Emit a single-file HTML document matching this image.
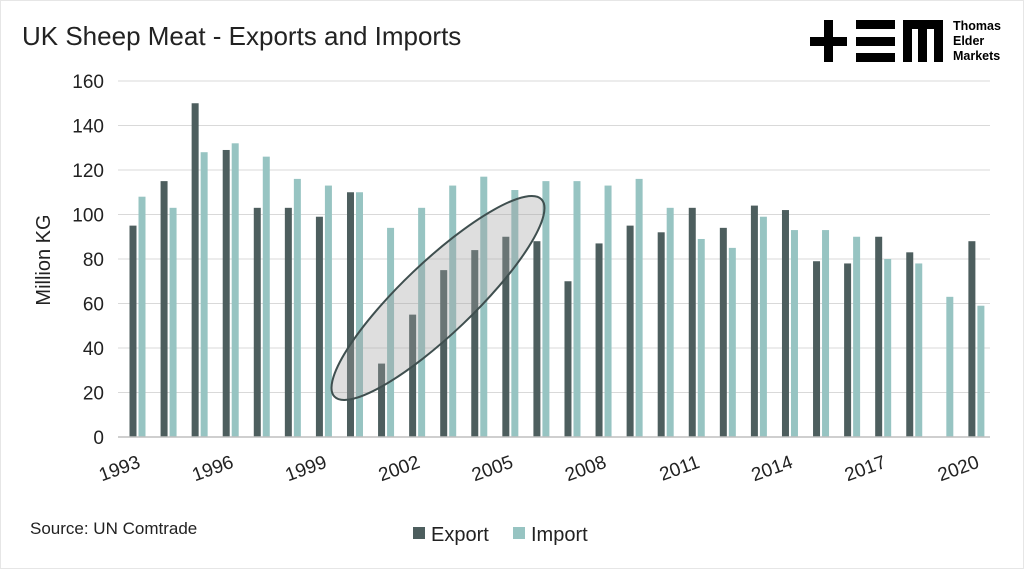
<!DOCTYPE html>
<html><head><meta charset="utf-8"><style>
body{margin:0;background:#fff;}
svg{display:block;font-family:"Liberation Sans",sans-serif;}
</style></head><body>
<svg id="chart" width="1024" height="569" viewBox="0 0 1024 569">
<rect x="0.5" y="0.5" width="1023" height="568" fill="#fff" stroke="#e6e6e6"/>
<text x="22" y="45" font-size="26" fill="#222">UK Sheep Meat - Exports and Imports</text>
<g>
<rect x="810" y="37" width="37" height="9" fill="#000"/>
<rect x="824" y="20" width="9" height="42" fill="#000"/>
<rect x="856" y="20" width="39" height="9" fill="#000"/>
<rect x="856" y="37" width="39" height="9" fill="#000"/>
<rect x="856" y="53" width="39" height="9" fill="#000"/>
<rect x="903" y="20" width="40" height="9" fill="#000"/>
<rect x="903" y="20" width="9" height="42" fill="#000"/>
<rect x="918" y="20" width="9" height="42" fill="#000"/>
<rect x="934" y="20" width="9" height="42" fill="#000"/>
<text x="953" y="30" font-size="12.5" font-weight="bold" fill="#000">Thomas</text>
<text x="953" y="45" font-size="12.5" font-weight="bold" fill="#000">Elder</text>
<text x="953" y="60" font-size="12.5" font-weight="bold" fill="#000">Markets</text>
</g>
<g id="grid"></g>
<g id="bars"></g>
<g id="axes"></g>
<ellipse cx="438" cy="298" rx="143" ry="36" transform="rotate(-43.6 438 298)" fill="rgba(160,160,160,0.35)" stroke="#3f4f4f" stroke-width="2"/>
<text transform="translate(50,260) rotate(-90)" text-anchor="middle" font-size="20" fill="#222">Million KG</text>
<text x="30" y="534" font-size="17" fill="#222">Source: UN Comtrade</text>
<g>
<rect x="413" y="527" width="12" height="12" fill="#4d5e5e"/>
<text x="431" y="541" font-size="20" fill="#222">Export</text>
<rect x="513" y="527" width="12" height="12" fill="#97c4c2"/>
<text x="531" y="541" font-size="20" fill="#222">Import</text>
</g>
</svg>
<script>
const years=[1993,1994,1995,1996,1997,1998,1999,2000,2001,2002,2003,2004,2005,2006,2007,2008,2009,2010,2011,2012,2013,2014,2015,2016,2017,2018,2019,2020];
const exportVals=[95,115,150,129,103,103,99,110,33,55,75,84,90,88,70,87,95,92,103,94,104,102,79,78,90,83,0,88];
const importVals=[108,103,128,132,126,116,113,110,94,103,113,117,111,115,115,113,116,103,89,85,99,93,93,90,80,78,63,59];
const yTicks=[0,20,40,60,80,100,120,140,160];
const xLabels=["1993","1996","1999","2002","2005","2008","2011","2014","2017","2020"];
const NS="http://www.w3.org/2000/svg";
const x0=118,x1=990,yb=437,yt=81,ymax=160;
const slot=31.07;
const yS=v=>yb-(v/ymax)*(yb-yt);
const xC=i=>137.5+i*slot;
function mk(t,a){const e=document.createElementNS(NS,t);for(const k in a)e.setAttribute(k,a[k]);return e;}
const grid=document.getElementById('grid'),bars=document.getElementById('bars'),axes=document.getElementById('axes');
yTicks.forEach(v=>{
  if(v>0){const l=mk('line',{x1:x0,x2:x1,y1:yS(v),y2:yS(v),stroke:'#d9d9d9','stroke-width':1});
  
  
  grid.appendChild(l);}
  const t=mk('text',{x:x0-14,y:yS(v)+7,'text-anchor':'end','font-size':19,fill:'#222'});
  t.textContent=v;
  
  
  axes.appendChild(t);
});
const bw=7;
years.forEach((yr,i)=>{
  const cx=xC(i);
  if(exportVals[i]>0){const r=mk('rect',{x:cx-bw-1,y:yS(exportVals[i]),width:bw,height:yb-yS(exportVals[i]),fill:'#4d5e5e'});
  
  
  bars.appendChild(r);}
  const r2=mk('rect',{x:cx+1,y:yS(importVals[i]),width:bw,height:yb-yS(importVals[i]),fill:'#97c4c2'});
  
  
  bars.appendChild(r2);
});
const ax=mk('line',{x1:x0,x2:x1,y1:yb,y2:yb,stroke:'#bfbfbf','stroke-width':1.5});


axes.appendChild(ax);
xLabels.forEach(lb=>{
  const i=years.indexOf(+lb);
  const cx=xC(i);
  const t=mk('text',{x:cx+4,y:yb+30,'text-anchor':'end','font-size':19,fill:'#222',transform:`rotate(-20 ${cx+4} ${yb+30})`});
  t.textContent=lb;
  
  
  axes.appendChild(t);
});
</script>
</body></html>
